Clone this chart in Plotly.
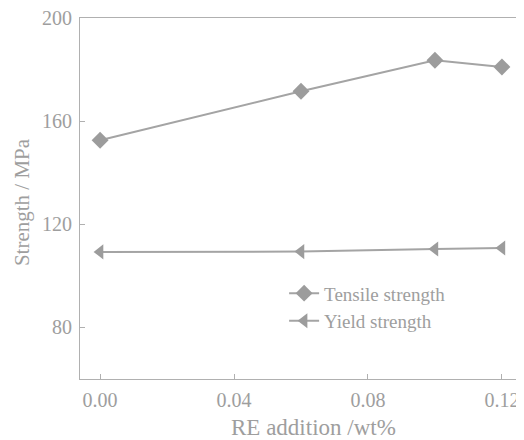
import plotly.graph_objects as go

re_addition = [0.0, 0.06, 0.10, 0.12]
tensile = [152.6, 171.6, 183.6, 181.0]
yield_s = [109.3, 109.4, 110.4, 110.8]
x_ticks = [0.0, 0.04, 0.08, 0.12]
x_tick_labels = ["0.00", "0.04", "0.08", "0.12"]
y_ticks = [80, 120, 160, 200]

gray = "#9c9c9c"
line_gray = "#a4a4a4"
text_gray = "#9e9e9e"
font = "Liberation Serif, Times New Roman, serif"

fig = go.Figure()
fig.add_trace(go.Scatter(
    x=re_addition, y=tensile, mode="lines+markers", name="Tensile strength",
    line=dict(color=line_gray, width=2),
    marker=dict(symbol="diamond", size=13, color=gray),
))
fig.add_trace(go.Scatter(
    x=re_addition, y=yield_s, mode="lines+markers", name="Yield strength",
    line=dict(color=line_gray, width=2),
    marker=dict(symbol="triangle-left", size=13, color=gray),
))

axis_common = dict(
    showline=True, linecolor="#b0b0b0", linewidth=1.2, mirror=True,
    ticks="inside", ticklen=5, tickcolor="#b0b0b0", showgrid=False,
    zeroline=False, automargin=False, ticklabeloverflow="allow",
    tickfont=dict(family=font, size=20, color=text_gray),
)

fig.update_layout(
    width=516, height=432,
    margin=dict(l=72, r=6, t=10, b=61),
    paper_bgcolor="white", plot_bgcolor="white",
    font=dict(family=font, color=text_gray),
    xaxis=dict(range=[-0.006, 0.1248], tickvals=x_ticks, ticktext=x_tick_labels,
               ticklabelstandoff=3, **axis_common),
    yaxis=dict(range=[60, 200], tickvals=y_ticks, ticklabelstandoff=3, **axis_common),
    legend=dict(x=0.466, y=0.29, xanchor="left", yanchor="top",
                bgcolor="rgba(0,0,0,0)", font=dict(family=font, size=19, color=text_gray),
                tracegroupgap=0),
    showlegend=True,
    annotations=[
        dict(text="RE addition /wt%", xref="paper", yref="paper", x=0.534, y=0,
             yshift=-48, xanchor="center", yanchor="middle", showarrow=False,
             font=dict(family=font, size=23, color=text_gray)),
        dict(text="Strength / MPa", xref="paper", yref="paper", x=0, y=0.49,
             xshift=-58, xanchor="center", yanchor="middle", textangle=-90, showarrow=False,
             font=dict(family=font, size=21, color=text_gray)),
    ],
)

fig.write_html("out.html")
